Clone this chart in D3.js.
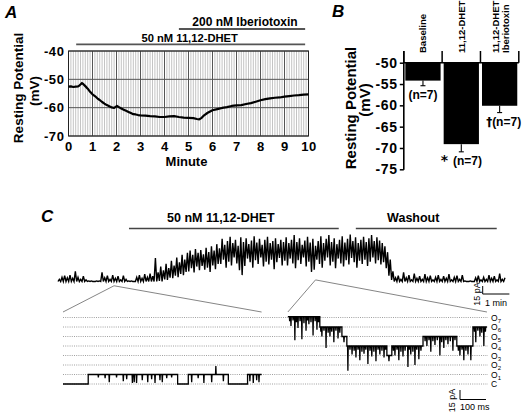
<!DOCTYPE html>
<html><head><meta charset="utf-8">
<script src="https://cdn.jsdelivr.net/npm/d3@7"></script>
<style>
body{margin:0;background:#fff}
svg{display:block}
text{font-family:"Liberation Sans",Arial,Helvetica,sans-serif}
</style>
</head><body>
<svg id="fig" width="526" height="420"></svg>
<script>
// ---------- Panel A data ----------
const aMinutes = [0,0.1,0.2,0.3,0.4,0.45,0.5,0.56,0.62,0.7,0.8,0.9,1.0,1.1,1.2,1.3,1.4,1.5,1.6,1.7,1.8,1.9,1.95,2.02,2.1,2.2,2.3,2.4,2.5,2.6,2.7,2.8,2.9,3.0,3.2,3.4,3.6,3.8,4.0,4.2,4.4,4.6,4.8,5.0,5.2,5.35,5.45,5.55,5.65,5.8,6.0,6.2,6.4,6.6,6.8,7.0,7.2,7.4,7.6,7.8,8.0,8.2,8.4,8.6,8.8,9.0,9.2,9.4,9.6,9.8,10.0];
const aMilliVolts = [-52.6,-52.5,-52.7,-52.6,-52.5,-52.2,-51.8,-51.3,-51.7,-52.4,-53.3,-54.4,-55.3,-55.9,-56.7,-57.3,-58.0,-58.6,-59.1,-59.5,-59.9,-60.1,-59.8,-59.4,-59.8,-60.3,-60.7,-61.1,-61.5,-61.9,-62.3,-62.4,-62.6,-62.7,-62.8,-63.0,-63.1,-63.3,-63.3,-63.1,-63.0,-63.3,-63.5,-63.6,-63.7,-64.0,-64.1,-63.6,-62.7,-61.8,-60.9,-60.5,-60.1,-59.8,-59.4,-59.2,-59.1,-58.7,-58.4,-57.9,-57.4,-57.0,-56.7,-56.5,-56.4,-56.1,-55.9,-55.7,-55.6,-55.4,-55.3];
const aXTicks = [0,1,2,3,4,5,6,7,8,9,10];
const aYTicks = [-40,-50,-60,-70];
const aDrugLabels = ["50 nM 11,12-DHET", "200 nM Iberiotoxin"];
const aDrugStart = [0.32, 4.6];
const aDrugEnd = [9.86, 9.86];

// ---------- Panel B data ----------
const bCategories = ["Baseline", "11,12-DHET", "11,12-DHET Iberiotoxin"];
const bCategoryLines = [["Baseline"], ["11,12-DHET"], ["11,12-DHET", "Iberiotoxin"]];
const bMeans = [-54.2, -69.1, -60.1];
const bSEM = [1.2, 1.8, 1.6];
const bNoteMarks = ["", "* ", "\u2020"];
const bNotes = ["(n=7)", "(n=7)", "(n=7)"];
const bYTicks = [-50, -55, -60, -65, -70, -75];

// ---------- Panel C data ----------
const cDrugLabels = ["50 nM 11,12-DHET", "Washout"];
const cDrugStart = [2.66, 11.16];
const cDrugEnd = [10.52, 16.44];
const topBinMin = 0.1;
const topHighPA = [4,8,11,7,12,6,19,8,4,10,3,1,1,0,1,1,17,7,11,4,12,6,10,3,11,4,1,1,0,8,12,6,14,8,15,10,44,
  17,28,21,33,25,39,30,45,36,50,41,54,
  58,50,61,54,59,51,63,55,66,58,70,62,
  80,69,76,84,72,78,67,83,74,81,70,77,85,73,80,69,78,84,72,76,81,70,78,74,
  83,72,78,87,74,81,69,77,84,73,80,67,76,85,72,80,87,74,81,70,78,85,73,80,88,76,83,72,78,84,74,81,87,76,83,77,72,
  66,55,41,19,7,
  11,4,17,7,12,3,15,6,10,4,14,7,11,3,8,12,4,10,6,14,3,8,11,4,12,1,0,1,0,7,11,3,8,4,12,6,10,3,15,4,7];
const topLowPA = [0,0,0,0,0,0,0,0,0,0,0,0,0,0,0,0,0,0,0,0,0,0,0,0,0,0,0,0,0,0,0,0,0,0,0,0,0,
  0,1,0,4,3,7,6,11,8,14,12,18,
  19,25,17,28,21,29,22,26,18,30,23,33,
  33,41,26,37,30,45,34,21,12,29,43,36,26,40,33,45,28,37,32,41,23,36,44,30,
  39,30,43,34,25,40,33,45,28,37,18,22,41,33,26,39,45,30,37,25,43,34,28,40,32,44,36,26,39,33,41,29,37,45,34,40,32,
  36,25,11,3,0,
  0,0,0,0,0,0,0,0,0,0,0,0,0,0,0,0,0,0,0,0,0,0,0,0,0,0,0,0,0,0,0,0,0,0,0,0,0,0,0,0,0];
const cZoomMinutes = [2.1, 9.65];
const cZoomAnchorPA = [-8, 3];
const channelLabels = ["C","O1","O2","O3","O4","O5","O6","O7"];
const unitaryPA = 15;
// left (low-activity) trace: dwell segments (ms, open-channel level) and brief flickers
const leftSegStart = [0, 97, 441, 482, 636, 710];
const leftSegEnd   = [97, 441, 482, 636, 710, 764];
const leftSegLevel = [0, 1, 0, 1, 0, 1];
const leftFlickMs    = [136,162,178,206,232,245,267,274,283,305,326,341,354,373,382,399,418, 495,520,542,572,588,617, 719,732,745,754];
const leftFlickDepth = [0.3,0.4,0.8,0.3,0.7,0.5,0.9,0.8,0.9,0.6,0.8,0.5,0.9,0.6,0.8,0.4,0.3, 0.8,0.4,0.9,0.8,-0.9,0.7, 0.7,0.9,0.6,0.8];
// right (high-activity) trace
const rightSegStart = [865, 988, 1073, 1092, 1246, 1265, 1385, 1515, 1577];
const rightSegEnd   = [988, 1073, 1092, 1246, 1265, 1385, 1515, 1577, 1631];
const rightSegLevel = [7.1, 6, 5, 4, 3, 4, 5, 4, 6];
const rightFlickMs    = [872,877,885,892,898,904,912,919,927,935,941,946,954,962,970,977,983, 992,996,1004,1012,1020,1027,1034,1042,1050,1058,1065, 1081, 1096,1104,1112,1120,1127,1135,1142,1150,1158,1165,1173,1181,1188,1196,1204,1212,1219,1227,1235,1241, 1254, 1271,1277,1285,1292,1300,1308,1316,1327,1332,1338,1346,1354,1361,1369,1377, 1393,1400,1408,1415,1423,1431,1440,1450,1457,1465,1473,1481,1490,1500,1508, 1521,1527,1535,1542,1550,1558,1569, 1583,1588,1596,1604,1611,1619,1625];
const rightFlickDepth = [0.5,1.0,0.4,2.5,0.6,1.2,0.5,2.4,0.7,1.5,0.4,0.8,0.6,2.0,0.5,1.4,0.6, 0.5,1.0,0.4,2.2,0.6,1.0,0.5,1.6,0.4,1.2,0.6, 0.6, 2.6,0.4,0.9,0.5,1.2,0.4,1.5,0.6,0.8,0.4,1.9,0.5,1.1,0.6,1.6,0.4,0.9,0.5,1.2,0.4, 0.6, 0.5,1.0,0.4,1.5,0.6,1.1,0.5,2.2,0.4,0.9,0.6,2.0,0.4,1.4,0.5, 0.5,1.0,0.4,1.6,0.5,0.9,0.4,2.0,0.6,1.2,0.4,0.8,0.5,1.5,0.4, 0.5,1.0,0.4,1.5,0.5,0.9,1.5, 0.5,1.6,0.4,1.0,0.6,2.0,0.5];

// ---------- Drawing ----------
const svg = d3.select("#fig");
svg.append("rect").attr("width",526).attr("height",420).attr("fill","#fff");
const BOLD = "bold";

function panelLetter(x, y, s) {
  svg.append("text").attr("x", x).attr("y", y).text(s)
    .attr("font-size", 17).attr("font-weight", "bold").attr("font-style", "italic");
}

// ===== Panel A =====
panelLetter(5, 18, "A");
const xA = d3.scaleLinear().domain([0, 10]).range([68.5, 308.5]);
const yA = d3.scaleLinear().domain([-70, -40]).range([136, 51]);
const gA = svg.append("g");
gA.selectAll("line.minor").data(d3.range(0, 100).map(i => i / 10)).join("line")
  .attr("x1", d => xA(d)).attr("x2", d => xA(d)).attr("y1", yA(-40)).attr("y2", yA(-70))
  .attr("stroke", "#c4c4c4").attr("stroke-width", 1);
gA.selectAll("line.majx").data(aXTicks).join("line")
  .attr("x1", d => xA(d)).attr("x2", d => xA(d)).attr("y1", yA(-40)).attr("y2", yA(-70))
  .attr("stroke", "#555").attr("stroke-width", 1);
gA.selectAll("line.majy").data(aYTicks).join("line")
  .attr("x1", xA(0)).attr("x2", xA(10)).attr("y1", d => yA(d)).attr("y2", d => yA(d))
  .attr("stroke", "#555").attr("stroke-width", 1);
gA.append("rect").attr("x", xA(0)).attr("y", yA(-40)).attr("width", xA(10) - xA(0)).attr("height", yA(-70) - yA(-40))
  .attr("fill", "none").attr("stroke", "#222").attr("stroke-width", 1);
gA.append("path").datum(aMinutes.map((m, i) => [m, aMilliVolts[i]]))
  .attr("d", d3.line().x(d => xA(d[0])).y(d => yA(d[1])))
  .attr("fill", "none").attr("stroke", "#000").attr("stroke-width", 2.2).attr("stroke-linejoin", "round");
const axAy = gA.append("g").attr("transform", `translate(${xA(0)},0)`)
  .call(d3.axisLeft(yA).tickValues(aYTicks).tickSize(0).tickPadding(4).tickFormat(d => String(d)));
const axAx = gA.append("g").attr("transform", `translate(0,${yA(-70)})`)
  .call(d3.axisBottom(xA).tickValues(aXTicks).tickSize(0).tickPadding(6).tickFormat(d => String(d)));
[axAy, axAx].forEach(a => { a.select(".domain").remove();
  a.selectAll("text").attr("font-size", 13).attr("font-weight", BOLD).attr("fill", "#000")
   .attr("font-family", "'Liberation Sans',Arial,sans-serif").attr("letter-spacing", 0.6); });
gA.append("text").attr("x", (xA(0) + xA(10)) / 2 - 2).attr("y", 166).attr("text-anchor", "middle")
  .attr("font-size", 13).attr("font-weight", BOLD).text("Minute");
gA.append("text").attr("transform", "translate(23,88) rotate(-90)").attr("text-anchor", "middle")
  .attr("font-size", 13.5).attr("font-weight", BOLD).text("Resting Potential");
gA.append("text").attr("transform", "translate(38.5,91) rotate(-90)").attr("text-anchor", "middle")
  .attr("font-size", 13.5).attr("font-weight", BOLD).text("(mV)");
const aBarY = [44.3, 29];
aDrugLabels.forEach((lab, i) => {
  gA.append("line").attr("x1", xA(aDrugStart[i])).attr("x2", xA(aDrugEnd[i]))
    .attr("y1", aBarY[i]).attr("y2", aBarY[i]).attr("stroke", "#555").attr("stroke-width", 1.8);
  gA.append("text").attr("x", (xA(aDrugStart[i]) + xA(aDrugEnd[i])) / 2 + (i ? 3 : -1)).attr("y", aBarY[i] - 2.6)
    .attr("text-anchor", "middle").attr("font-size", i ? 12 : 11.2).attr("font-weight", BOLD).text(lab);
});

// ===== Panel B =====
panelLetter(332, 17, "B");
const yB = d3.scaleLinear().domain([-75, -50]).range([169.3, 62.7]);
const xB = d3.scaleBand().domain(bCategories).range([403.8, 518.8]).paddingInner(0.08).paddingOuter(0.04);
const gB = svg.append("g");
gB.selectAll("rect.bar").data(bCategories).join("rect")
  .attr("x", d => xB(d)).attr("width", xB.bandwidth())
  .attr("y", yB(-50)).attr("height", (d, i) => yB(bMeans[i]) - yB(-50)).attr("fill", "#000");
bCategories.forEach((c, i) => {
  const cx = xB(c) + xB.bandwidth() / 2;
  gB.append("line").attr("x1", cx).attr("x2", cx).attr("y1", yB(bMeans[i])).attr("y2", yB(bMeans[i] - bSEM[i]))
    .attr("stroke", "#000").attr("stroke-width", 1.1);
  gB.append("line").attr("x1", cx - 2.5).attr("x2", cx + 2.5).attr("y1", yB(bMeans[i] - bSEM[i])).attr("y2", yB(bMeans[i] - bSEM[i]))
    .attr("stroke", "#000").attr("stroke-width", 1.1);
  const t = gB.append("text").attr("x", cx + (i === 2 ? 4 : 0)).attr("y", yB(bMeans[i] - bSEM[i]) + 13.5)
    .attr("text-anchor", "middle").attr("font-size", 12).attr("font-weight", BOLD);
  if (bNoteMarks[i]) t.append("tspan").attr("font-family", "'DejaVu Sans',sans-serif").attr("fill", "#000")
    .attr("font-size", i === 1 ? 14 : 12).text(bNoteMarks[i]);
  t.append("tspan").text(bNotes[i]);
  const lines = bCategoryLines[i];
  lines.forEach((ln, k) => {
    const bx = cx + 3.5 + (k - (lines.length - 1) / 2) * 10.3 + (lines.length > 1 ? 1 : 0);
    gB.append("text").attr("transform", `translate(${bx},53) rotate(-90)`)
      .attr("font-size", 9.5).attr("font-weight", BOLD).text(ln);
  });
});
const step = xB.step();
const x0B = xB.range()[0];
gB.append("line").attr("x1", x0B).attr("x2", xB.range()[1]).attr("y1", yB(-50)).attr("y2", yB(-50))
  .attr("stroke", "#000").attr("stroke-width", 1.5);
d3.range(0, bCategories.length + 1).forEach(i => {
  const bx = i === 0 ? x0B : xB(bCategories[i - 1]) + xB.bandwidth() + xB.paddingInner() * step / 2;
  gB.append("line").attr("x1", bx).attr("x2", bx).attr("y1", 51).attr("y2", yB(-50))
    .attr("stroke", "#000").attr("stroke-width", 1.5);
});
const axB = gB.append("g").attr("transform", `translate(${x0B},0)`)
  .call(d3.axisLeft(yB).tickValues(bYTicks).tickSize(4).tickPadding(2).tickFormat(d => String(d)));
axB.select(".domain").attr("d", `M0,51V${yB(-75) + 0.5}`).attr("stroke", "#000").attr("stroke-width", 1.6);
axB.selectAll(".tick line").attr("stroke-width", 1.5);
axB.selectAll("text").attr("font-size", 14).attr("font-weight", BOLD).attr("fill", "#000")
  .attr("font-family", "'Liberation Sans',Arial,sans-serif").attr("letter-spacing", 0.7);
gB.append("text").attr("transform", "translate(356,108) rotate(-90)").attr("text-anchor", "middle")
  .attr("font-size", 15).attr("font-weight", BOLD).text("Resting Potential");
gB.append("text").attr("transform", "translate(369.5,100) rotate(-90)").attr("text-anchor", "middle")
  .attr("font-size", 15).attr("font-weight", BOLD).text("(mV)");

// ===== Panel C =====
panelLetter(41, 222, "C");
const xTop = d3.scaleLinear().domain([0, 16.75]).range([58, 505]);
const yTop = d3.scaleLinear().domain([0, 15]).range([281.5, 273.5]);
const gC = svg.append("g");
cDrugLabels.forEach((lab, i) => {
  const x1 = xTop(cDrugStart[i]), x2 = xTop(cDrugEnd[i]);
  gC.append("line").attr("x1", x1).attr("x2", x2).attr("y1", 228.5).attr("y2", 228.5)
    .attr("stroke", "#444").attr("stroke-width", 1.3);
  gC.append("text").attr("x", (x1 + x2) / 2 - 13).attr("y", 222).attr("text-anchor", "middle")
    .attr("font-size", 12.5).attr("font-weight", BOLD).text(lab);
});
const topPts = [];
topHighPA.forEach((h, i) => {
  topPts.push([i * topBinMin, topLowPA[i]]);
  topPts.push([i * topBinMin + topBinMin / 2, h]);
});
gC.append("path").datum(topPts)
  .attr("d", d3.line().x(d => xTop(d[0])).y(d => yTop(d[1])))
  .attr("fill", "none").attr("stroke", "#000").attr("stroke-width", 1.4).attr("stroke-linejoin", "miter");
// top scale bar (15 pA, 1 min)
const sbx = 482.7, sby = 294;
gC.append("path").attr("d", `M${sbx},${sby - (yTop(0) - yTop(15))}V${sby}H${sbx + xTop(1) - xTop(0)}`)
  .attr("fill", "none").attr("stroke", "#000").attr("stroke-width", 1);
gC.append("text").attr("transform", `translate(${sbx - 3.2},${sby}) rotate(-90)`).attr("text-anchor", "middle")
  .attr("font-size", 9).text("15 pA");
gC.append("text").attr("x", sbx + (xTop(1) - xTop(0)) / 2).attr("y", 306).attr("text-anchor", "middle")
  .attr("font-size", 9).text("1 min");

// bottom panel
const xBot = d3.scaleLinear().domain([0, 1635]).range([63, 488]);
const yBot = d3.scaleLinear().domain([0, 7 * unitaryPA]).range([384, 317.5]);
channelLabels.forEach((lab, k) => {
  const y = yBot(k * unitaryPA);
  gC.append("line").attr("x1", xBot(0)).attr("x2", xBot(1635)).attr("y1", y).attr("y2", y)
    .attr("stroke", "#888").attr("stroke-width", 0.8).attr("stroke-dasharray", "1,1.2");
  const t = gC.append("text").attr("x", 491).attr("y", y + 3).attr("font-size", 8.5);
  t.append("tspan").text(lab[0]);
  if (lab.length > 1) t.append("tspan").attr("font-size", 6).attr("dy", 2).text(lab.slice(1));
});
function channelPoints(segStart, segEnd, segLevel, flickMs, flickDepth) {
  const pts = [];
  segStart.forEach((s, i) => {
    const e = segEnd[i], lv = segLevel[i];
    pts.push([s, lv]);
    flickMs.forEach((t, j) => {
      if (t > s && t < e) { pts.push([t - 1.3, lv]); pts.push([t, lv - flickDepth[j]]); pts.push([t + 1.3, lv]); }
    });
    pts.push([e, lv]);
  });
  return pts;
}
const chanLine = d3.line().x(d => xBot(d[0])).y(d => yBot(d[1] * unitaryPA));
const leftPts = channelPoints(leftSegStart, leftSegEnd, leftSegLevel, leftFlickMs, leftFlickDepth);
const rightPts = channelPoints(rightSegStart, rightSegEnd, rightSegLevel, rightFlickMs, rightFlickDepth);
[leftPts, rightPts].forEach(p => gC.append("path").datum(p).attr("d", chanLine)
  .attr("fill", "none").attr("stroke", "#000").attr("stroke-width", 1.3));

// zoom connectors
const traceExtents = [[leftSegStart[0], leftSegEnd[leftSegEnd.length - 1]], [rightSegStart[0], rightSegEnd[rightSegEnd.length - 1]]];
cZoomMinutes.forEach((m, i) => {
  const sx = xTop(m), sy = yTop(cZoomAnchorPA[i]);
  traceExtents[i].forEach(ms => {
    gC.append("line").attr("x1", sx).attr("y1", sy).attr("x2", xBot(ms)).attr("y2", yBot(7 * unitaryPA) - 5.5)
      .attr("stroke", "#666").attr("stroke-width", 0.8);
  });
});

// bottom scale bar (15 pA, 100 ms)
const bbx = 460, bby = 399.5;
gC.append("path").attr("d", `M${bbx},${bby - (yBot(0) - yBot(unitaryPA))}V${bby}H${bbx + xBot(100) - xBot(0)}`)
  .attr("fill", "none").attr("stroke", "#000").attr("stroke-width", 1);
gC.append("text").attr("transform", `translate(${bbx - 5},${bby + 1}) rotate(-90)`).attr("text-anchor", "middle")
  .attr("font-size", 9).text("15 pA");
gC.append("text").attr("x", bbx).attr("y", 410).attr("font-size", 9).text("100 ms");
</script>
</body></html>
